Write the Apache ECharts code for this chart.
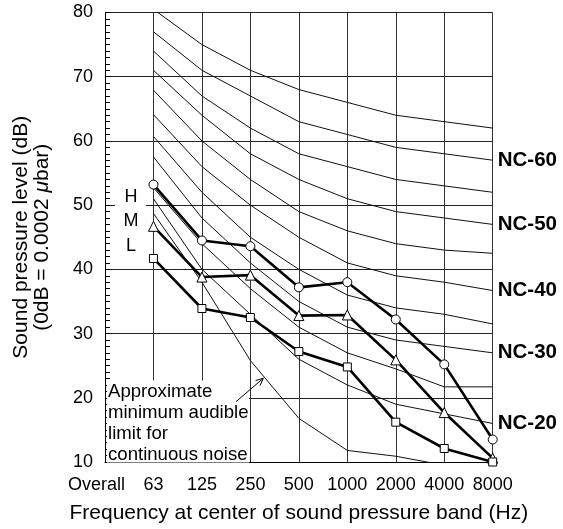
<!DOCTYPE html>
<html>
<head>
<meta charset="utf-8">
<script src="https://cdn.jsdelivr.net/npm/echarts@6/dist/echarts.min.js"></script>
<style>
html,body{margin:0;padding:0;background:#fff;}
#chart{width:563px;height:529px;}
</style>
</head>
<body>
<div id="chart"></div>
<script>
const categories = ['Overall', '63', '125', '250', '500', '1000', '2000', '4000', '8000'];
const yTicks = [10, 20, 30, 40, 50, 60, 70, 80];

// NC curves (dB), first entry is "Overall" (no value)
const nc20 = [null, 51, 40, 33, 26, 22, 19, 17.5, 16];
const nc25 = [null, 52.7, 44, 37, 31, 27, 24.5, 21.7, 21.7];
const nc30 = [null, 57.5, 48, 41, 35, 31, 29, 28, 27];
const nc35 = [null, 60.7, 52, 45, 40, 36, 34, 33, 31.5];
const nc40 = [null, 64.1, 56, 50, 45, 41, 39, 38, 36.7];
const nc45 = [null, 67.9, 60, 54, 49, 46, 44, 43, 42.5];
const nc50 = [null, 71, 64, 58, 54, 51, 49, 48, 47];
const nc55 = [null, 74, 67, 62, 58, 56, 54, 53, 52];
const nc60 = [null, 77, 71, 67, 63, 61, 59, 58, 57];
const nc65 = [null, 80.5, 75, 71, 68, 66, 64, 63, 62];
const audibleLimit = [null, 48.7, 38, 25.8, 16.8, 11.8, 10.9, 9.5, null];

// Measured spectra
const seriesH = [null, 53.2, 44.5, 43.6, 37.2, 38.0, 32.2, 25.2, 13.5];
const seriesM = [null, 46.7, 38.8, 39.1, 32.8, 32.9, 25.9, 17.7, 10.6];
const seriesL = [null, 41.7, 33.9, 32.5, 27.2, 24.8, 16.2, 12.1, 10.0];

const ncCurves = [
  {name: 'NC-20', data: nc20, label: true},
  {name: 'NC-25', data: nc25, label: false},
  {name: 'NC-30', data: nc30, label: true},
  {name: 'NC-35', data: nc35, label: false},
  {name: 'NC-40', data: nc40, label: true},
  {name: 'NC-45', data: nc45, label: false},
  {name: 'NC-50', data: nc50, label: true},
  {name: 'NC-55', data: nc55, label: false},
  {name: 'NC-60', data: nc60, label: true},
  {name: 'NC-65', data: nc65, label: false}
];
const measured = [
  {name: 'H', data: seriesH, symbol: 'circle', size: 9},
  {name: 'M', data: seriesM, symbol: 'triangle', size: 10},
  {name: 'L', data: seriesL, symbol: 'rect', size: 8}
];

const FONT = '"Liberation Sans", Arial, Helvetica, sans-serif';
const chart = echarts.init(document.getElementById('chart'), null, {renderer: 'canvas'});

const series = [];
ncCurves.forEach(c => {
  series.push({
    type: 'line', name: c.name, data: c.data,
    showSymbol: false, symbol: 'none', silent: true, z: 2,
    lineStyle: {color: '#111', width: 1},
    endLabel: c.label ? {
      show: true, formatter: c.name, distance: 5,
      color: '#000', fontFamily: FONT, fontWeight: 'bold', fontSize: 20.5
    } : {show: false}
  });
});
series.push({
  type: 'line', name: 'audible', data: audibleLimit,
  showSymbol: false, symbol: 'none', silent: true, z: 2,
  lineStyle: {color: '#111', width: 1}
});
measured.forEach(m => {
  series.push({
    type: 'line', name: m.name, data: m.data,
    symbol: m.symbol, symbolSize: m.size, showSymbol: true, z: 5,
    lineStyle: {color: '#000', width: 2.6},
    itemStyle: {color: '#fff', borderColor: '#000', borderWidth: 1}
  });
});

const option = {
  backgroundColor: '#fff',
  animation: false,
  grid: {left: 105, right: 70.3, top: 12.5, bottom: 66},
  xAxis: {
    type: 'category',
    data: categories.map((c, i) => i === 0 ? {value: c, textStyle: {padding: [0, 17, 0, 0]}} : c),
    boundaryGap: false,
    axisLine: {show: true, lineStyle: {color: '#000', width: 1}},
    axisTick: {show: false},
    axisLabel: {interval: 0, margin: 14, color: '#000', fontFamily: FONT, fontSize: 18},
    splitLine: {show: true, interval: 0, lineStyle: {color: '#333', width: 1}},
    name: 'Frequency at center of sound pressure band (Hz)',
    nameLocation: 'middle', nameGap: 41,
    nameTextStyle: {color: '#000', fontFamily: FONT, fontSize: 21}
  },
  yAxis: {
    type: 'value', min: yTicks[0], max: yTicks[yTicks.length - 1], interval: 10,
    axisLine: {show: true, lineStyle: {color: '#000', width: 1}},
    axisTick: {show: true, inside: true, length: 5, lineStyle: {color: '#000'}},
    minorTick: {show: true, splitNumber: 10, length: 5, lineStyle: {color: '#000', width: 1}},
    axisLabel: {margin: 12, color: '#000', fontFamily: FONT, fontSize: 18},
    splitLine: {show: true, lineStyle: {color: '#222', width: 1}},
    name: 'Sound pressure level (dB)\n(0dB = 0.0002 {i|μ}bar)',
    nameLocation: 'middle', nameGap: 52,
    nameTextStyle: {
      color: '#000', fontFamily: FONT, fontSize: 21, lineHeight: 21.5,
      rich: {i: {fontStyle: 'italic', fontFamily: FONT, fontSize: 21, color: '#000'}}
    }
  },
  series: series,
  graphic: [
    {type: 'rect', z: 50, shape: {x: 107, y: 380.5, width: 142, height: 82}, style: {fill: '#fff'}},
    {type: 'text', z: 51, x: 108, y: 381,
      style: {text: 'Approximate\nminimum audible\nlimit for\ncontinuous noise',
        font: '18.6px "Liberation Sans", Arial, sans-serif', fill: '#000', lineHeight: 21.2}},
    {type: 'polyline', z: 51, shape: {points: [[236, 401.7], [263.3, 378.3]]}, style: {stroke: '#000', lineWidth: 1, fill: null}},
    {type: 'polyline', z: 51, shape: {points: [[255.6, 380.5], [263.3, 378.3], [260, 385.6]]}, style: {stroke: '#000', lineWidth: 1, fill: null}},
    {type: 'rect', z: 50, shape: {x: 115, y: 187, width: 31, height: 69}, style: {fill: '#fff'}},
    {type: 'text', z: 51, x: 131, y: 197, style: {text: 'H', font: '18px "Liberation Sans", Arial, sans-serif', fill: '#000', align: 'center', verticalAlign: 'middle'}},
    {type: 'text', z: 51, x: 131, y: 221, style: {text: 'M', font: '18px "Liberation Sans", Arial, sans-serif', fill: '#000', align: 'center', verticalAlign: 'middle'}},
    {type: 'text', z: 51, x: 131, y: 246, style: {text: 'L', font: '18px "Liberation Sans", Arial, sans-serif', fill: '#000', align: 'center', verticalAlign: 'middle'}}
  ]
};
chart.setOption(option);
</script>
</body>
</html>
